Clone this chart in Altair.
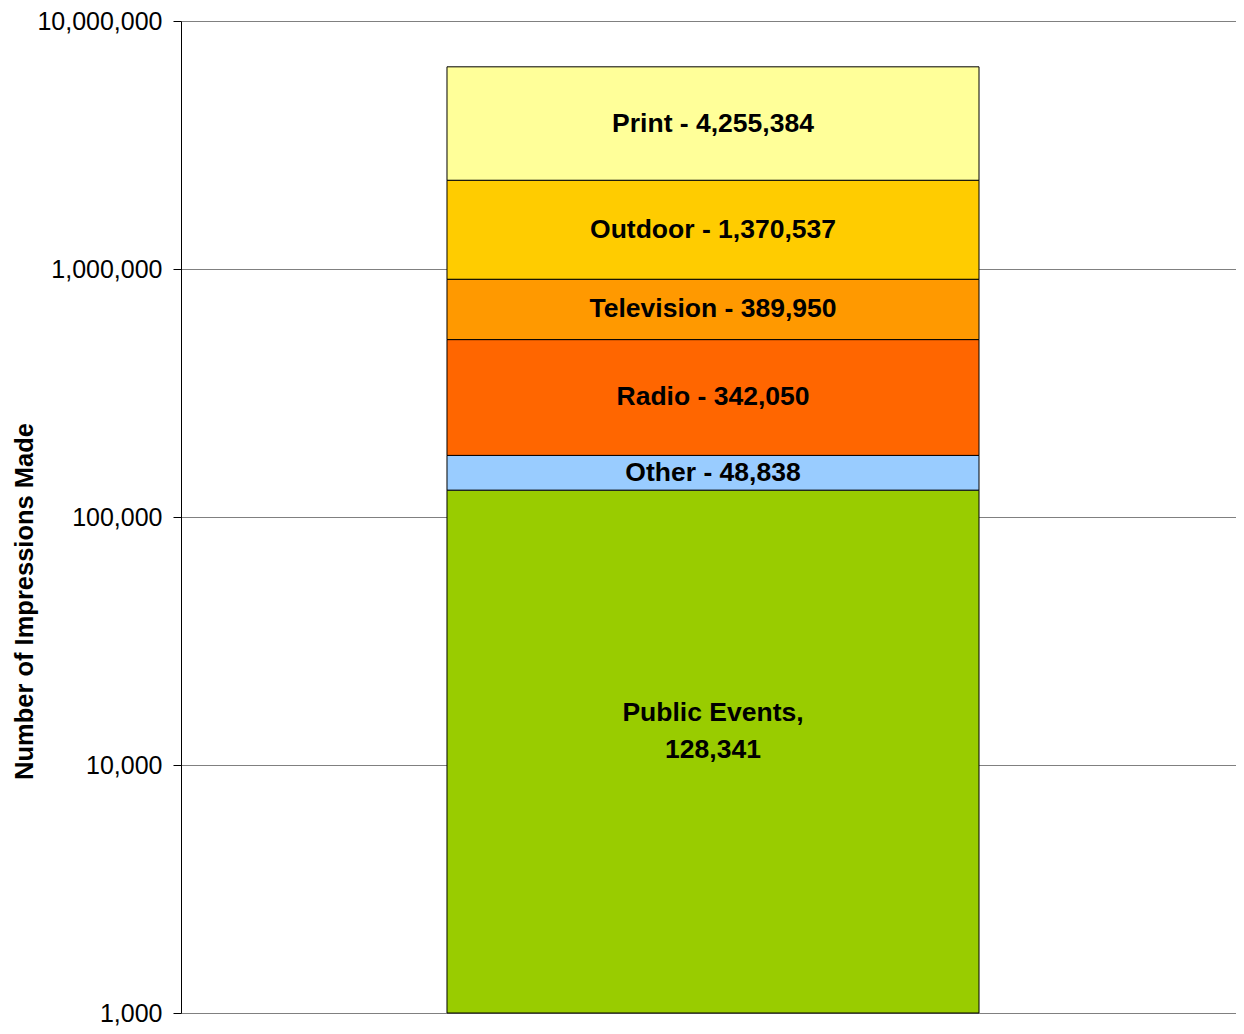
import altair as alt
import pandas as pd

categories = ["Public Events", "Other", "Radio", "Television", "Outdoor", "Print"]
values = [128341, 48838, 342050, 389950, 1370537, 4255384]
colors = ["#99CC00", "#99CCFF", "#FF6600", "#FF9900", "#FFCC00", "#FFFF99"]
tick_values = [1000, 10000, 100000, 1000000, 10000000]
axis_min, axis_max = 1000, 10000000

rows = []
cum = 0
for i, (c, v) in enumerate(zip(categories, values)):
    lo = cum if cum > 0 else axis_min
    hi = cum + v
    cum = hi
    if i == 0:
        label = f"{c},\n{v:,}"
    else:
        label = f"{c} - {v:,}"
    mid = (lo * hi) ** 0.5
    rows.append({"group": "Impressions", "category": c, "value": v,
                 "lo": lo, "hi": hi, "mid": mid, "label": label, "first": i == 0})
df = pd.DataFrame(rows)

yscale = alt.Scale(type="log", domain=[axis_min, axis_max], nice=False)
xscale = alt.Scale(paddingInner=0, paddingOuter=0.4915, align=0.5086)
font = "Liberation Sans"

base = alt.Chart(df)

bars = base.mark_bar(stroke="black", strokeWidth=1).encode(
    x=alt.X("group:N", scale=xscale, axis=None),
    y=alt.Y("lo:Q", scale=yscale,
            axis=alt.Axis(title="Number of Impressions Made", values=tick_values,
                          format=",d", labelFont=font, labelFontSize=25,
                          labelColor="black", labelPadding=11,
                          titleFont=font, titleFontSize=25.5, titleFontWeight="bold",
                          titleColor="black", titleX=-144, titleY=580,
                          domainColor="black", domainWidth=1,
                          tickColor="black", tickSize=8,
                          gridColor="#808080", gridWidth=1, gridOpacity=1)),
    y2="hi:Q",
    color=alt.Color("category:N", scale=alt.Scale(domain=categories, range=colors), legend=None),
)

text_main = base.transform_filter("!datum.first").mark_text(
    font=font, fontSize=26.5, fontWeight="bold", color="black", baseline="middle", align="center"
).encode(
    x=alt.X("group:N", scale=xscale),
    y=alt.Y("mid:Q", scale=yscale),
    text="label:N",
)

text_first = base.transform_filter("datum.first").mark_text(
    font=font, fontSize=26.5, fontWeight="bold", color="black", baseline="middle", align="center",
    lineBreak="\n", lineHeight=37, dy=-39
).encode(
    x=alt.X("group:N", scale=xscale),
    y=alt.Y("mid:Q", scale=yscale),
    text="label:N",
)

chart = alt.layer(bars, text_main, text_first).properties(
    width=1055, height=992,
    autosize=alt.AutoSizeParams(type="none"),
    padding={"left": 173, "top": 13, "right": 0, "bottom": 13},
).configure_view(stroke=None).configure_axis(grid=True)

chart.save("out.html", embed_options={"renderer": "svg", "actions": False})
